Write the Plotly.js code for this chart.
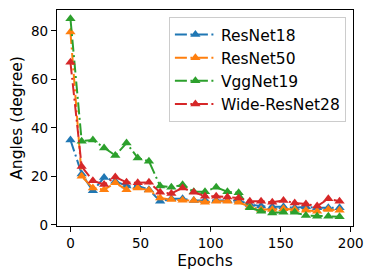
<!DOCTYPE html>
<html>
<head>
<meta charset="utf-8">
<script src="https://cdn.plot.ly/plotly-3.0.1.min.js"></script>
<style>html,body{margin:0;padding:0;background:#fff;}#chart{width:374px;height:279px;}</style>
</head>
<body>
<div id="chart"></div>
<script>
const epochs = [0, 8, 16, 24, 32, 40, 48, 56, 64, 72, 80, 88, 96, 104, 112, 120, 128, 136, 144, 152, 160, 168, 176, 184, 192];
const resnet18 = [35, 21, 14, 19.5, 18, 16, 16, 14.5, 9.7, 10.7, 10.7, 10, 10, 10, 10, 10, 8.4, 7.7, 7.4, 7.4, 7, 7.4, 7, 7, 7];
const resnet50 = [79.5, 20, 15.2, 14.5, 17.3, 14.5, 15.2, 14.2, 11.1, 10.4, 10.1, 10, 9.3, 9.7, 9.7, 9.3, 7.4, 6.3, 6.3, 6.6, 6.3, 6, 5.6, 6.3, 6];
const vggnet19 = [85, 34.5, 35, 31.7, 28.6, 33.7, 27.6, 26.2, 16, 15.5, 16.5, 13.6, 13.6, 15.5, 13.6, 13.2, 7, 5.6, 4.9, 5.2, 5.2, 3.8, 3.5, 3.5, 3.3];
const wideresnet28 = [67, 24, 18.2, 16.6, 19.7, 17.5, 17.3, 17.5, 13.4, 12.9, 15.2, 13.4, 11.8, 11.8, 11.5, 11.1, 9.7, 9.7, 9.3, 10, 9, 8.6, 7.7, 10.7, 9.7];
const names = ["ResNet18", "ResNet50", "VggNet19", "Wide-ResNet28"];
const colors = ["#1f77b4", "#ff7f0e", "#2ca02c", "#d62728"];
const series = [resnet18, resnet50, vggnet19, wideresnet28];

const traces = series.map((ys, i) => ({
  x: epochs, y: ys, name: names[i], type: "scatter", mode: "lines+markers",
  line: {color: colors[i], width: 2, dash: "12px,3.5px,2px,3.5px"},
  marker: {color: colors[i], symbol: "triangle-up", size: 9}
}));

const layout = {
  width: 374, height: 279,
  margin: {l: 57, r: 21, t: 10, b: 52.5, pad: 0},
  paper_bgcolor: "#fff", plot_bgcolor: "#fff",
  font: {family: "DejaVu Sans", size: 13.5, color: "#000"},
  showlegend: true,
  legend: {
    x: 0.976, xanchor: "right", y: 0.968, yanchor: "top",
    itemwidth: 41,
    font: {family: "DejaVu Sans", size: 15.5, color: "#000"},
    bordercolor: "#cccccc", borderwidth: 1, bgcolor: "rgba(255,255,255,0.8)"
  },
  xaxis: {
    range: [-9.6, 201.6], tickvals: [0, 50, 100, 150, 200],
    showgrid: false, zeroline: false, showline: true, mirror: true,
    linecolor: "#000", linewidth: 1.1, ticks: "outside", ticklen: 5, tickcolor: "#000",
    tickfont: {family: "DejaVu Sans", size: 13.5, color: "#000"},
    title: {text: "Epochs", font: {family: "DejaVu Sans", size: 15.5, color: "#000"}, standoff: 4}
  },
  yaxis: {
    range: [-0.5, 88.6], tickvals: [0, 20, 40, 60, 80],
    showgrid: false, zeroline: false, showline: true, mirror: true,
    linecolor: "#000", linewidth: 1.1, ticks: "outside", ticklen: 5, tickcolor: "#000",
    tickfont: {family: "DejaVu Sans", size: 13.5, color: "#000"},
    title: {text: "Angles (degree)", font: {family: "DejaVu Sans", size: 15.5, color: "#000"}, standoff: 4}
  }
};
Plotly.newPlot("chart", traces, layout, {displayModeBar: false, staticPlot: true});
</script>
</body>
</html>
